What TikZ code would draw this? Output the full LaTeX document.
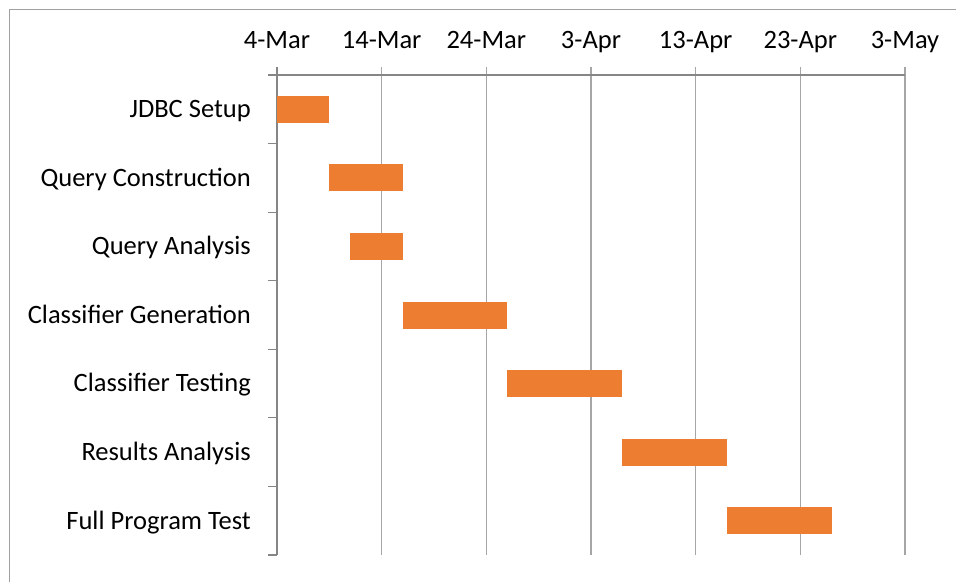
\documentclass[tikz,border=0pt]{standalone}
\usepackage{fontspec}
\setmainfont{Carlito}
\definecolor{barorange}{HTML}{ED7D31}
\definecolor{gridgray}{HTML}{A6A6A6}
\definecolor{axisgray}{HTML}{868686}
\definecolor{framegray}{HTML}{A0A0A0}
\begin{document}
\begin{tikzpicture}[x=1pt,y=-1pt,
  bar/.style={fill=barorange,draw=none},
  gridline/.style={draw=gridgray,line width=1.2pt},
  axisline/.style={draw=axisgray,line width=1.2pt},
  datelabel/.style={font=\fontsize{26.5}{26.5}\selectfont,anchor=base,inner sep=0pt},
  catlabel/.style={font=\fontsize{26.5}{26.5}\selectfont,anchor=base east,inner sep=0pt}]
\useasboundingbox (0,0) rectangle (956,582);
\fill[white] (0,0) rectangle (956,582);
\draw[framegray,line width=1pt] (9,582) -- (9,9) -- (956,9);
% gridlines and date labels
\foreach \d/\lab [count=\i] in {0/4-Mar,10/14-Mar,20/24-Mar,30/3-Apr,40/13-Apr,50/23-Apr,60/3-May}{
  \coordinate (g\i) at ({277+\d*10.4667},67);
  \draw[gridline] (g\i) -- ++(0,488);
  \node[datelabel] (dl\i) at ({277+\d*10.4667},48.5) {\lab};
}
\draw[axisline] (268,75) -- (905,75);
\draw[axisline] (277,67) -- (277,555);
% category ticks
\foreach \k in {0,...,7}{
  \draw[axisline] (268,{75+\k*68.571}) -- (277,{75+\k*68.571});
}
% bars and labels
\foreach \s/\e/\lab [count=\i] in {0/5/JDBC Setup,5/12/Query Construction,7/12/Query Analysis,12/22/Classifier Generation,22/33/Classifier Testing,33/43/Results Analysis,43/53/Full Program Test}{
  \pgfmathsetmacro{\yc}{75+(\i-0.5)*68.571}
  \fill[bar] ({277+\s*10.4667},{\yc-13.5}) rectangle ({277+\e*10.4667},{\yc+13.5});
  \node[catlabel] (c\i) at (251,{\yc+8.3}) {\lab};
}
\end{tikzpicture}
\end{document}
